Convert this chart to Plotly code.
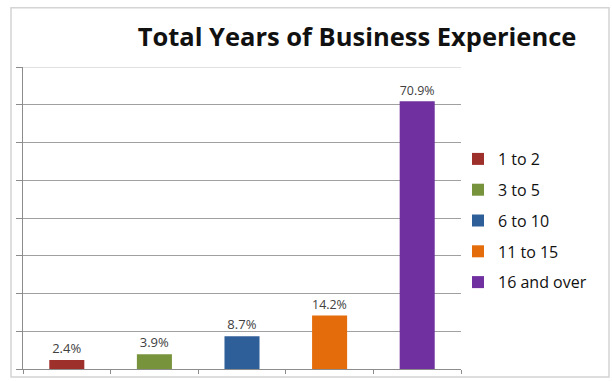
import plotly.graph_objects as go

# Share of respondents by total years of business experience
categories = ["1 to 2", "3 to 5", "6 to 10", "11 to 15", "16 and over"]
shares = [2.4, 3.9, 8.7, 14.2, 70.9]
colors = ["#9E302C", "#77933C", "#2F5F98", "#E46C0A", "#7030A0"]
y_max, y_step = 80, 10

W, H = 612, 381
# plot area in pixels
L, R, T, B = 23, 461, 67, 373

fig = go.Figure()
for cat, val, col in zip(categories, shares, colors):
    fig.add_trace(go.Bar(
        x=[cat], y=[val], name=cat, legendgroup=cat,
        marker=dict(color=col, line=dict(width=0)),
        width=0.4,
        text=[f"{val:.1f}%"], textposition="outside",
        textfont=dict(family="Open Sans", size=13, color="#404040"),
        cliponaxis=False,
    ))

def px_x(p):
    return (p - L) / (R - L)

def px_y(p):
    return (B - p) / (B - T)

# light outer frame of the chart
fig.add_shape(type="rect", xref="paper", yref="paper",
              x0=px_x(11), x1=px_x(609), y0=px_y(381), y1=px_y(7),
              line=dict(color="#D4D4D4", width=1.5), fillcolor="rgba(0,0,0,0)",
              layer="below")
# gridline at the top of the value range
fig.add_shape(type="line", xref="paper", yref="y",
              x0=px_x(17), x1=1, y0=y_max, y1=y_max,
              line=dict(color="#C4C4C4", width=1), layer="below")

fig.update_layout(
    width=W, height=H,
    margin=dict(l=L, r=W - R, t=T, b=H - B),
    paper_bgcolor="white", plot_bgcolor="white",
    barmode="overlay",
    title=dict(text="<b>Total Years of Business Experience</b>",
               x=357 / W, xref="container", xanchor="center",
               y=1 - 37 / H, yref="container", yanchor="middle",
               font=dict(family="Open Sans", size=25.5, color="#111111")),
    xaxis=dict(
        categoryorder="array", categoryarray=categories,
        showticklabels=False, showgrid=False,
        showline=True, linecolor="#8C8C8C", linewidth=1,
        ticks="outside", ticklen=4, tickcolor="#8C8C8C",
        tickson="boundaries", range=[-0.5, 4.5],
    ),
    yaxis=dict(
        range=[0, y_max], tick0=0, dtick=y_step, showticklabels=False,
        showgrid=True, gridcolor="#A0A0A0", gridwidth=1,
        showline=True, linecolor="#8C8C8C", linewidth=1,
        ticks="outside", ticklen=6, tickcolor="#8C8C8C",
        zeroline=False,
    ),
    legend=dict(
        x=px_x(458), xanchor="left", y=px_y(143), yanchor="top",
        font=dict(family="Open Sans", size=16, color="#111111"),
        itemwidth=30, tracegroupgap=7, bgcolor="rgba(0,0,0,0)",
    ),
    showlegend=True,
)

fig.write_html("out.html")
